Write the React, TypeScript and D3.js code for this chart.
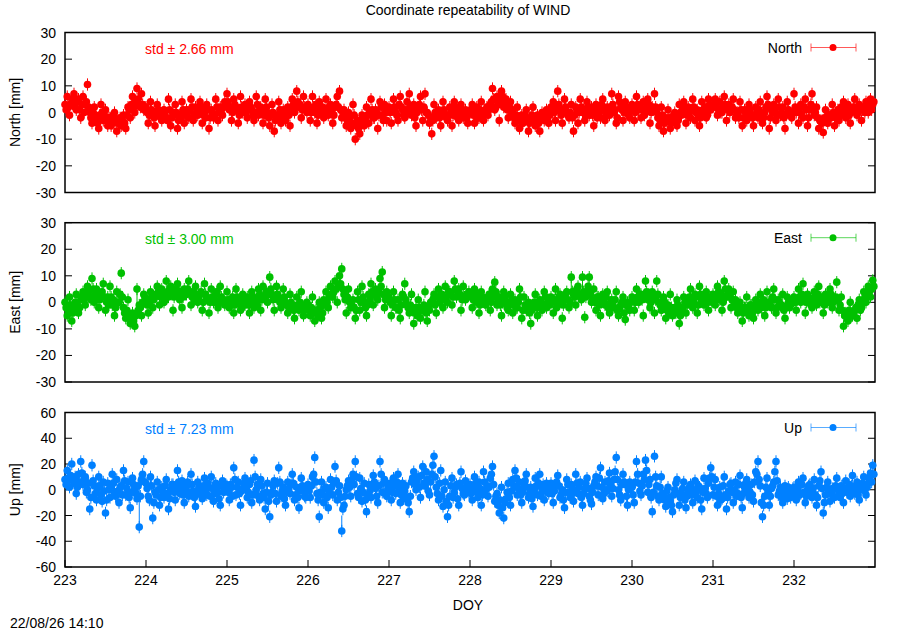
import React, { useEffect, useRef } from 'react';
import * as d3 from 'd3';

// samples every 20 min (72 per day), DOY 223.0 .. 232.99
const startDoy = 223;
const endDoy = 233;
const doyTicks = [223, 224, 225, 226, 227, 228, 229, 230, 231, 232];

const northValues = [
  3, 1, 6, 2, -1, 3, 4, 5, 7, 2, 1, 4, 5, 1, -2, 3, 6, 0, 3, 4, 10.5, 2, 0, -2, -4, 0, 2, -1, -2, -4, -6, -1, 3, 0, -3, -1, 1, -3, -5, -2, -2, -5, -4, -1, 0, -3, -7, -4, -3, -2, -5, -3, -1, -4, -6, -1, 2, 1, -2, 3, 6, 2, 0, 4, 9, 5, 3, 2, 7, 3, 1, 2, // 223
  2, 0, -4, -1, 4, 1, -1, -2, -5, -1, 3, 1, 0, -2, -3, 0, 1, -1, -2, -3, 5, 1, -5, -2, 0, -1, 3, 0, -6, -3, -1, -2, 4, 1, -4, -1, 1, 0, -2, 1, 5, 2, -3, -1, 2, 0, -1, 1, 4, 2, -4, -1, 0, -2, 3, 1, -6, -2, 1, 0, -2, -1, 5, 2, -3, 0, 2, 1, -1, 2, 4, 3, // 224
  7, 4, 1, 2, -3, 0, 5, 3, 2, 1, -4, -1, 6, 2, 0, 1, 3, 0, -2, 1, 4, 2, 1, -1, -3, 0, 6, 3, -1, 1, 2, 0, -4, -1, 5, 2, 0, -2, -5, -1, 3, 0, -7, -3, -2, -1, 4, 1, -4, -2, 1, -1, -3, 0, 2, -1, -5, 1, 5, 3, 0, 2, 8, 4, 2, 3, -2, 1, 6, 2, 1, 0, // 225
  3, 1, -3, 0, 6, 2, 0, 3, -4, -1, 4, 1, 1, 2, -2, 0, 5, 1, -1, 2, 3, 0, -4, -1, 2, 3, 6, 2, 8, 1, -2, 0, 1, -2, -5, -3, 0, -2, -6, -4, 3, -1, -10, -5, -3, -6, -8, -4, -1, -3, -5, -2, 2, -1, -4, 0, 5, 1, -2, -2, 1, 0, -6, -1, 4, 2, -1, -3, 3, 0, -3, 1, // 226
  2, 0, -4, 1, 5, 2, 0, -1, -3, 3, 6, 2, 1, -1, -2, 1, 4, 0, 7, 2, -1, 1, 3, -2, -5, 0, 2, 3, 6, 1, -3, 2, 7, 0, 0, -1, -4, -2, -8, -3, 3, 0, -2, -1, 1, -2, -5, 0, 4, 1, -1, -2, -3, -1, 2, 0, -5, -1, 4, 2, 0, -2, -3, 1, 3, 0, -2, -1, 1, -2, -4, 0, // 227
  0, 1, 3, -1, -4, 0, 2, -2, -2, 1, 4, -1, -3, 0, 1, 2, -1, 1, 3, 4, 9, 5, 1, 2, 6, 3, -3, 4, 8, 6, 2, 3, 5, 1, -2, 2, 4, 0, 1, -2, -4, -1, 2, -3, -6, -2, -1, -4, -3, -1, 1, -3, -7, -4, -2, -1, 2, -3, -5, -2, -1, -4, -7, -2, 0, -1, -3, -2, 1, -3, -4, -1, // 228
  2, 1, 4, 0, -3, 2, 8, 3, 1, -1, -4, 1, 5, 2, 0, -1, -2, 0, 3, -2, -7, -1, 2, 1, -4, 0, 5, 2, 0, 1, -3, -1, 4, 2, -1, 0, 2, -1, -5, 1, 3, -2, 1, 0, -2, 3, 5, 1, -3, -1, 2, 0, -1, 2, 7, 3, 0, 1, -4, -2, 6, 4, 2, 1, -3, 0, 4, 2, 1, -1, -2, 1, // 229
  3, 1, -3, 0, 6, 3, 1, 2, -2, 1, 4, -1, 0, 2, 5, 3, -4, 0, 2, 1, 7, 2, 0, -2, -5, -3, 2, -1, -7, -4, -2, -3, 1, -2, -6, -4, -3, -1, 0, -2, -5, -3, 3, 0, -1, 1, 4, 2, -4, -1, 2, 0, -2, 1, 5, 2, -3, 0, 1, -1, -5, -2, 4, 1, 0, 2, -2, -1, 5, 3, 1, 2, // 230
  2, 3, 5, 2, -1, 1, 4, 0, 0, 2, 6, 3, -3, 1, 3, 0, 1, 2, 5, 1, -2, -1, 0, -2, 4, 1, -5, -2, 1, 0, -3, -1, 3, 1, -1, -2, -5, -1, 2, 0, -2, 1, 4, -1, -4, -2, 0, 2, 6, 3, -6, -2, 1, 0, 3, 1, -3, -1, 5, 2, -1, 0, 2, -2, -6, -1, 4, 1, 0, -1, -2, 0, // 231
  7, 2, 0, 1, -4, 0, 3, -1, -2, 2, 5, 1, -5, -2, 1, 3, 7, 2, -1, 0, 2, -2, -6, -3, -3, -4, -7.5, -2, 1, -3, -4, -1, -1, -2, 3, 0, -5, -2, 0, 1, -3, -1, 2, 0, 4, 2, -2, 1, 3, -1, -4, 0, 1, 2, 5, 1, -1, 0, 3, 2, -3, 1, 2, 0, 4, 2, 0, 3, 5, 1, 3, 4, // 232
];

const eastValues = [
  0, -2, -5, -3, 2, -1, -7, -4, -2, 0, 3, -1, -4, -2, 1, 2, 4, 1, -1, 3, 6, 4, 2, 1, 9, 5, 0, 3, 5, 2, -2, 1, 3, 4, 7, 2, -3, 0, 2, -1, 6, 2, -1, 1, -5, -2, 4, 0, 0, 3, 11, 2, -2, -4, -6, -3, 1, -5, -8, -6, -4, -7, -9, -5, 5, -3, -1, -2, -5, 0, 3, 2, // 223
  1, -1, -4, 0, 4, 2, -2, 1, 2, 3, 6, 4, -1, 2, 5, 3, 0, 1, 8, 4, 2, 5, 6, 3, -3, 2, 4, 5, 7, 3, 1, 4, -2, 2, 5, 3, 3, 5, 8, 4, -1, 2, 4, 1, 6, 3, 0, 2, 3, 4, -3, 0, 7, 3, 2, 1, -4, 0, 5, 2, 0, 1, 3, 4, -2, 0, 6, 2, 1, 1, -1, 0, // 224
  4, 1, -2, 0, 1, 2, -4, -1, 5, 2, 0, 1, -3, -2, 3, 0, -1, 1, 2, -1, -4, 0, 4, 2, -2, 1, 1, -1, 5, 3, -3, 1, 6, 2, 2, 4, 0, 3, 9.5, 5, 3, 1, -3, 2, 6, 3, 1, 0, -2, 1, 5, 2, 0, -1, -4, -2, 3, 0, -1, -3, -6, -2, 2, -1, -3, 0, 4, -2, -5, -3, -1, 0, // 225
  -1, -3, -5, -2, 2, -4, -7, -3, -3, -5, 0, -2, -6, -4, 1, -1, 4, 0, -2, 2, 6, 3, 2, 4, 8, 5, 0, 6, 10, 7, 12.6, 5, 3, 1, -4, 2, 5, 0, -2, -1, 1, -2, -6, -3, 4, 1, -3, 0, 6, 2, 0, -2, -5, -1, 3, 1, 7, 4, -1, 3, 5, 2, 1, 4, 9, 6, 11.4, 3, -2, 1, 4, 2, // 226
  2, 0, -5, -1, 4, 1, -2, -2, 1, -3, -6, -1, 3, 2, 7, 1, -1, -2, -4, -1, 3, -3, -8, -4, -2, -5, 1, -2, -6, -3, -3, -1, 4, -4, -7, -2, -3, 0, 0, 1, 3, -1, -4, 2, 5, 0, 1, 3, -2, 1, 6, 2, 0, 4, 4, 3, -1, 2, 8, 5, 2, 4, 5, 3, -3, 1, 6, 2, 1, 3, 3, 4, // 227
  3, 2, -2, 1, 5, 3, 0, 1, -4, -1, 4, 2, 1, 0, -1, 1, 2, 3, -3, 0, 5, 2, 7.6, 4, -1, 1, 2, -1, -5, 0, 4, 2, 0, -2, -3, -1, 3, 1, -4, -1, 1, -2, -2, 0, 5, 2, -6, -3, 2, -1, -3, -2, 0, -4, -8, -3, -1, 0, 3, -2, -5, -1, 1, 0, -3, -1, 4, 2, -2, 0, 1, -1, // 228
  2, 0, -4, 1, 5, -2, -1, 2, 3, 0, -6, -1, 1, 3, 4, 1, -2, 0, 9.5, 4, 3, 2, -1, 5, 6, 3, 2, 1, 9.5, 4, -5.6, 2, 4, 6, 9.5, 3, 0, 1, 5, 0, -3, 2, 2, -1, -5, 0, 3, 1, -1, 2, 4, -2, -4, 0, 1, -1, -2, 1, 4, -3, -5, -2, -1, 0, 2, -4, -6.5, -1, 0, -2, -3, 0, // 229
  2, 1, -3, 0, 5, 2, 0, 3, 3, 1, -5, 2, 8, 4, 1, 3, -2, 0, 4, 2, -4, 1, 8, 3, 0, -1, -3, -2, 2, 0, -6, -3, -1, -4, 3, -2, -5, -3, -2, -4, 1, -1, -8, -5, -3, -2, 2, 0, -4, -1, 0, 2, 5, 1, -2, 0, 3, 2, -4, -1, 6, 3, 1, 1, -1, 2, 4, 0, -3, 1, 2, 0, // 230
  3, 1, -1, 2, 6, 4, 1, 3, -3, 0, 8, 5, 2, 3, 5, 2, -2, 1, 4, 0, 1, -2, -4, -1, 0, -3, -7, -4, -2, -2, 2, -3, -5, -1, -1, -4, -6, -2, 1, -1, -3, 0, 3, -2, -1, 1, -5, -2, 4, 0, 0, -1, -2, 2, 5, 1, -4, -2, 1, 0, -1, -1, 3, -3, -6, -2, 2, 0, -2, -1, 0, 1, // 231
  2, 0, -3, 1, 5, 2, 0, 3, 7, 1, -4, 0, 3, 2, 1, -1, -2, 1, 4, 2, -1, 3, 6, 0, 2, 1, -4, -1, 3, 2, 0, 1, 5, 3, -2, 0, 1, 2, 7.6, 1, -3, -1, 2, -3, -9, -5, -4, -6, -7, -3, 0, -5, -5, -4, -3, -2, -6, -1, 1, -3, -2, 0, 4, 2, 0, 3, 6, 4, 2, 5, 8.3, 6, // 232
];

const upValues = [
  8, 4, 15, 9, 2, 11, 20, 7, 5, 10, -3, 2, 12, 6, 22, 13, 4, 8, 10, -2, 0, 5, -15, -6, 19, 7, 3, -3, -8, 1, 10, 3, -4, -9, 6, -1, -18, -8, 5, 0, -6, 3, 12, 5, -2, -5, 8, -1, -10, 2, 3, -4, 15, 7, -4, 1, 6, -6, -14, -2, 9, 4, 0, -3, -7, 3, -29, -5, 8, 12, 22, 6, // 223
  5, 1, -5, -8, 10, 3, -22, -10, -2, -4, 6, 0, -12, -6, 2, -2, -6, 3, 8, -3, -15, -7, 0, 4, 4, -2, -8, 1, 15, 6, -3, 2, 7, -4, -10, -1, 3, 6, -5, -2, 12, 4, -1, -6, -13, -3, 6, 2, 0, -4, -7, 3, 9, -1, -4, 5, 2, -5, 10, 1, -9, -3, 5, 0, -2, -7, -12, 3, 7, -2, 0, 4, // 224
  3, -2, -8, 4, 2, -5, 17, 8, -4, 2, 6, -3, -12, -1, 1, 5, 9, 2, -6, -2, 4, 7, -10, -4, 23, 10, 0, 4, -5, -8, 8, 3, -3, -6, -15, -2, 5, -9, -21, -4, -2, 3, 7, -3, -9, 5, 17, 6, -5, -1, 2, -7, -12, -2, 6, 1, -3, 4, 12, 5, -8, -4, 2, -6, -14, -1, 9, 3, 0, -5, -6, 2, // 225
  4, -1, -6, 3, 10, 12, 25, 6, -3, -8, -21, -2, 6, -4, -10, 1, 2, -6, -14, -3, 8, 2, -4, 5, 18, 7, -8, -2, 3, -6, -32, -15, -12, -5, 0, 3, 7, 2, -5, 8, 12, 4, 22, 10, -3, -6, 9, 1, -9, -2, 5, -8, -17, -4, 4, -1, -6, 4, 11, 6, 1, -5, -10, 3, 22, 12, -2, 5, 8, -3, -5, 1, // 226
  2, 5, -8, -2, 9, 3, -3, 6, 12, 1, -10, -4, 5, -7, -1, 3, -6, -10, -17, -5, 6, 9, 14, 4, 0, 7, 10, 2, -6, 11, 18, 5, 3, 14, 8, -1, -4, 6, 12, 19, 26, 10, 2, -3, -8, 5, 15, -5, -13, 0, 6, -9, -21, -12, -5, 3, 9, -6, -2, 2, 4, -7, -12, 5, 14, 1, -3, -4, 7, 3, 0, -2, // 227
  4, -3, -8, 2, 10, 5, -2, -6, 6, 1, -12, -4, 14, 6, 0, 3, -5, 2, 9, 12, 18, 4, -9, -5, -3, -12, -18, -8, 2, -14, -22, -10, -7, -2, 5, -6, -12, -1, 8, 3, 15, 9, -4, 1, 6, -4, -10, -2, 3, 7, 12, 2, -6, -3, 2, -7, -13, -2, 9, 3, -4, 5, 12, -5, 0, 4, -8, -1, 5, 1, -3, 2, // 228
  5, -3, -10, -1, 3, 6, 11, 3, -6, -4, 0, -8, -14, -2, 8, 4, -2, -6, 4, 1, -9, -2, 12, 5, -3, 2, 6, -6, -12, -3, 1, 5, 9, 1, -5, -8, -11, -2, 3, 6, 10, 3, -4, 9, 17, 2, -7, -3, 6, 0, -1, 7, 13, 4, -5, 1, 8, 14, 25, 8, 0, -4, -8, 4, 12, 6, 4, -5, -12, 0, 6, 2, // 229
  2, -4, -10, 6, 22, 12, 5, -1, -4, 3, 12, 8, 23, 15, -2, 4, 8, -6, -17, -2, 26, 10, 3, -5, -8, 2, 10, -3, -5, -8, -13, -1, 2, -6, -9, -12, -17, -4, 0, 5, 8, -3, -12, -6, -3, 1, 6, -8, -14, -5, -1, 2, 4, -4, -10, 0, 7, -2, -6, 3, 2, -8, -15, -2, 9, 1, -3, -6, 5, 9, 17, 10, // 230
  -4, 2, 8, -5, -12, -3, 2, -8, -7, 3, 10, -4, -15, -6, -1, 4, 5, -2, -10, 0, 6, -5, -3, 4, 11, -6, -14, -3, 2, 5, 8, 1, -6, -2, 4, -4, -9, 6, 14, 12, 22, 8, 3, -10, -21, -12, -5, 2, 9, -3, -12, -5, 1, 3, 6, 14, 22, 7, -4, -1, 2, -6, -10, -2, 3, -4, -7, 2, 0, -6, -4, 1, // 231
  2, -3, -8, 1, 6, -4, -3, 4, 9, -2, -10, -5, 0, 3, 4, -2, -6, 1, 8, -4, -12, -6, 3, 7, 14, 1, -18, -10, -4, 2, 6, -3, -9, -2, 1, -5, -6, 3, 9, 0, -2, -6, 3, -3, -10, 1, 7, -2, 0, 4, -5, 3, 11, -1, -3, 2, 6, -4, -8, 1, 2, 5, 10, -1, -4, 2, 5, 9, 13, 6, 19, 12, // 232
];

// typical formal error (half length of the y error bar), mm
const northSigma = 2.3;
const eastSigma = 2.3;
const upSigma = 4.8;

// visible long error whiskers: [doy, from, to]
const northWhiskers: number[][] = [];
const eastWhiskers = [
  [223.889, 5, -1],
  [229.25, 9.5, 4],
  [229.389, 9.5, 3],
];
const upWhiskers = [
  [223.917, -29, 13],
  [226.417, -32, -20],
];

const neTicks = [-30, -20, -10, 0, 10, 20, 30];
const upTicks = [-60, -40, -20, 0, 20, 40, 60];

const panels = [
  { key: 'North', label: 'North [mm]', std: '2.66', values: northValues, sigma: northSigma, domain: [-30, 30], ticks: neTicks, color: '#ff0000', whiskers: northWhiskers },
  { key: 'East', label: 'East [mm]', std: '3.00', values: eastValues, sigma: eastSigma, domain: [-30, 30], ticks: neTicks, color: '#00c000', whiskers: eastWhiskers },
  { key: 'Up', label: 'Up [mm]', std: '7.23', values: upValues, sigma: upSigma, domain: [-60, 60], ticks: upTicks, color: '#0080ff', whiskers: upWhiskers },
];

const App: React.FC = () => {
  const chartRef = useRef<SVGSVGElement | null>(null);

  useEffect(() => {
    const svg = d3.select(chartRef.current);
    svg.selectAll('*').remove();

    const width = 900;
    const height = 630;
    const left = 65;
    const right = 875;
    const frames = [
      [32.5, 192.5],
      [222.7, 382],
      [412.5, 567],
    ];
    const font = '"Liberation Sans", Arial, sans-serif';

    svg.attr('width', width).attr('height', height).style('font-family', font);

    const x = d3.scaleLinear().domain([startDoy, endDoy]).range([left, right]);

    svg
      .append('text')
      .attr('x', 468)
      .attr('y', 15)
      .attr('text-anchor', 'middle')
      .attr('font-size', 14)
      .text('Coordinate repeatability of WIND');

    panels.forEach((p, pi) => {
      const [top, bottom] = frames[pi];
      const y = d3.scaleLinear().domain(p.domain).range([bottom, top]);
      const step = (endDoy - startDoy) / p.values.length;
      const g = svg.append('g');

      // border
      g.append('rect')
        .attr('x', left)
        .attr('y', top)
        .attr('width', right - left)
        .attr('height', bottom - top)
        .attr('fill', 'none')
        .attr('stroke', '#000')
        .attr('stroke-width', 1.5);

      // y ticks (mirrored) and labels
      p.ticks.forEach((t) => {
        const ty = y(t);
        g.append('line').attr('x1', left).attr('x2', left + 7).attr('y1', ty).attr('y2', ty).attr('stroke', '#000');
        g.append('line').attr('x1', right).attr('x2', right - 7).attr('y1', ty).attr('y2', ty).attr('stroke', '#000');
        g.append('text')
          .attr('x', 56)
          .attr('y', ty + 5)
          .attr('text-anchor', 'end')
          .attr('font-size', 14)
          .text(String(t));
      });

      g.append('text')
        .attr('transform', `translate(20,${(top + bottom) / 2}) rotate(-90)`)
        .attr('text-anchor', 'middle')
        .attr('font-size', 14)
        .text(p.label);

      // y error bars for every sample
      g.selectAll('.err')
        .data(p.values)
        .enter()
        .append('line')
        .attr('x1', (_d, i) => x(startDoy + i * step))
        .attr('x2', (_d, i) => x(startDoy + i * step))
        .attr('y1', (d) => y(d - p.sigma))
        .attr('y2', (d) => y(d + p.sigma))
        .attr('stroke', p.color)
        .attr('stroke-width', 1);

      // longer whiskers
      g.selectAll('.whisker')
        .data(p.whiskers)
        .enter()
        .append('line')
        .attr('x1', (d) => x(d[0]))
        .attr('x2', (d) => x(d[0]))
        .attr('y1', (d) => y(d[1]))
        .attr('y2', (d) => y(d[2]))
        .attr('stroke', p.color)
        .attr('stroke-width', 1);

      // points
      g.selectAll('.pt')
        .data(p.values)
        .enter()
        .append('circle')
        .attr('cx', (_d, i) => x(startDoy + i * step))
        .attr('cy', (d) => y(d))
        .attr('r', 3.8)
        .attr('fill', p.color);

      // std annotation
      g.append('text')
        .attr('x', 145)
        .attr('y', top + 21)
        .attr('font-size', 14)
        .attr('fill', p.color)
        .text(`std \u00b1 ${p.std} mm`);

      // legend
      const ly = top + 15;
      g.append('text')
        .attr('x', 802)
        .attr('y', ly + 5)
        .attr('text-anchor', 'end')
        .attr('font-size', 14)
        .text(p.key);
      const lg = g.append('g').attr('stroke', p.color).attr('stroke-opacity', 0.65);
      lg.append('line').attr('x1', 811).attr('x2', 856).attr('y1', ly).attr('y2', ly);
      lg.append('line').attr('x1', 811).attr('x2', 811).attr('y1', ly - 4).attr('y2', ly + 4);
      lg.append('line').attr('x1', 856).attr('x2', 856).attr('y1', ly - 4).attr('y2', ly + 4);
      g.append('circle').attr('cx', 833).attr('cy', ly).attr('r', 3.5).attr('fill', p.color);

      // x axis only on the bottom panel
      if (pi === panels.length - 1) {
        doyTicks.forEach((d) => {
          g.append('line').attr('x1', x(d)).attr('x2', x(d)).attr('y1', bottom).attr('y2', bottom - 7).attr('stroke', '#000');
          g.append('text')
            .attr('x', x(d))
            .attr('y', bottom + 18)
            .attr('text-anchor', 'middle')
            .attr('font-size', 14)
            .text(String(d));
        });
      }
    });

    svg
      .append('text')
      .attr('x', 468)
      .attr('y', 610)
      .attr('text-anchor', 'middle')
      .attr('font-size', 14)
      .text('DOY');

    svg.append('text').attr('x', 10).attr('y', 628).attr('font-size', 14).text('22/08/26 14:10');
  }, []);

  return <svg ref={chartRef} style={{ position: 'absolute', left: 0, top: 0 }}></svg>;
};

export default App;
